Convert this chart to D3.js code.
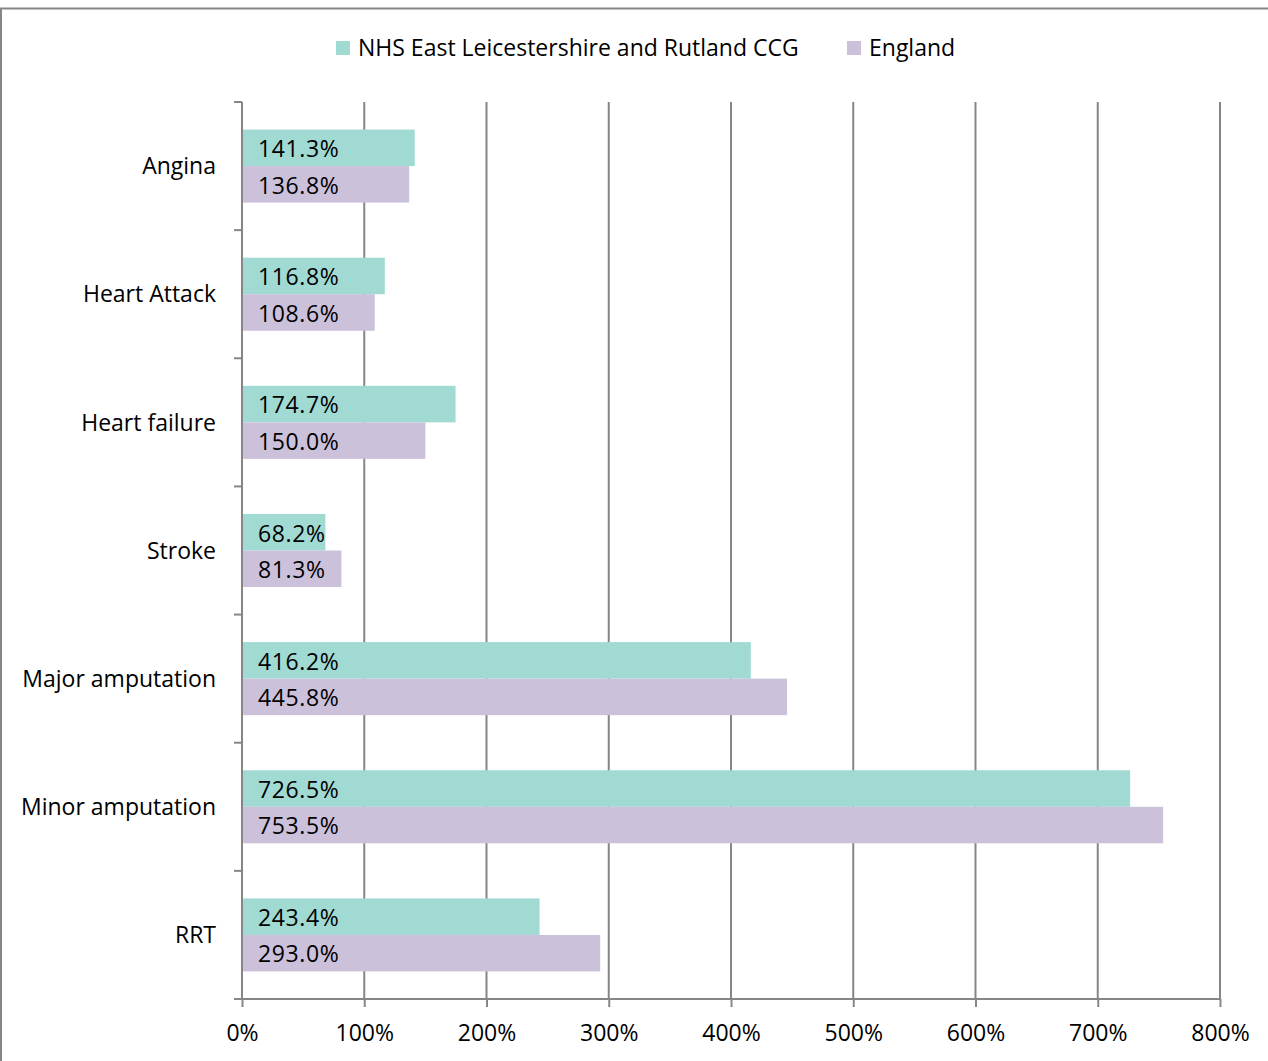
<!DOCTYPE html>
<html><head><meta charset="utf-8">
<script src="https://cdn.jsdelivr.net/npm/d3@7"></script>
<style>
body{margin:0;background:#fff;}
svg{display:block;font-family:"Open Sans",sans-serif;}
</style></head>
<body><svg id="c" width="1268" height="1061"></svg>
<script>
const categories = ["Angina","Heart Attack","Heart failure","Stroke","Major amputation","Minor amputation","RRT"];
const seriesNames = ["NHS East Leicestershire and Rutland CCG","England"];
const ccgValues = [141.3,116.8,174.7,68.2,416.2,726.5,243.4];
const englandValues = [136.8,108.6,150.0,81.3,445.8,753.5,293.0];
const xTicks = [0,100,200,300,400,500,600,700,800];
const colors = ["#a0dad3","#ccc1da"];

(function(){
const svg = d3.select("#c");
const FS = 23;
const pL = 242, pR = 1220, pT = 102, pB = 999;
const x = d3.scaleLinear().domain([0,800]).range([pL,pR]);
const y = d3.scaleBand().domain(categories).range([pT,pB]).paddingInner(0.43).paddingOuter(0.215);
const sub = d3.scaleBand().domain([0,1]).range([0,y.bandwidth()]);

// outer frame
svg.append("rect").attr("x",1).attr("y",8.5).attr("width",1300).attr("height",1100)
  .attr("fill","none").attr("stroke","#868686").attr("stroke-width",2);

// gridlines
svg.append("g").selectAll("line").data(xTicks.slice(1)).join("line")
  .attr("x1",d=>x(d)).attr("x2",d=>x(d)).attr("y1",pT).attr("y2",pB)
  .attr("stroke","#868686").attr("stroke-width",2);

// bars
const data = categories.map((c,i)=>({c, vals:[ccgValues[i],englandValues[i]]}));
const g = svg.append("g");
data.forEach(d=>{
  d.vals.forEach((v,j)=>{
    g.append("rect").attr("x",x(0)).attr("y",y(d.c)+sub(j))
      .attr("width",x(v)-x(0)).attr("height",sub.bandwidth()).attr("fill",colors[j]);
    g.append("text").attr("x",x(0)+16).attr("y",y(d.c)+sub(j)+sub.bandwidth()/2+1)
      .attr("dy","0.36em").attr("font-size",FS).attr("letter-spacing",0.6).attr("fill","#000")
      .text(d3.format(".1f")(v)+"%");
  });
});

// x axis
const xAxis = d3.axisBottom(x).tickValues(xTicks).tickFormat(d=>d+"%").tickSize(8).tickPadding(18);
const xa = svg.append("g").attr("transform",`translate(0,${pB})`).call(xAxis);
xa.select(".domain").remove();
xa.append("line").attr("x1",pL-8).attr("x2",pR).attr("stroke","#868686").attr("stroke-width",2);
xa.selectAll(".tick line").attr("stroke","#868686").attr("stroke-width",2);
xa.selectAll(".tick text").attr("font-size",FS).attr("font-family","Open Sans").attr("fill","#000");

// y axis
const ya = svg.append("g");
ya.append("line").attr("x1",pL).attr("x2",pL).attr("y1",pT).attr("y2",pB).attr("stroke","#868686").attr("stroke-width",2);
const bounds = d3.range(categories.length).map(i=>pT+i*(pB-pT)/categories.length);
ya.selectAll(".tk").data(bounds).join("line").attr("class","tk")
  .attr("x1",pL-8).attr("x2",pL).attr("y1",d=>d).attr("y2",d=>d).attr("stroke","#868686").attr("stroke-width",2);
ya.selectAll(".lbl").data(categories).join("text").attr("class","lbl")
  .attr("x",216).attr("y",d=>y(d)+y.bandwidth()/2).attr("dy","0.36em")
  .attr("text-anchor","end").attr("font-size",FS).attr("fill","#000").text(d=>d);

// legend
const legX = [336,847];
seriesNames.forEach((n,i)=>{
  svg.append("rect").attr("x",legX[i]).attr("y",41).attr("width",14).attr("height",14).attr("fill",colors[i]);
  svg.append("text").attr("x",legX[i]+22).attr("y",48).attr("dy","0.36em").attr("font-size",FS).attr("fill","#000").text(n);
});
})();
</script></body></html>
